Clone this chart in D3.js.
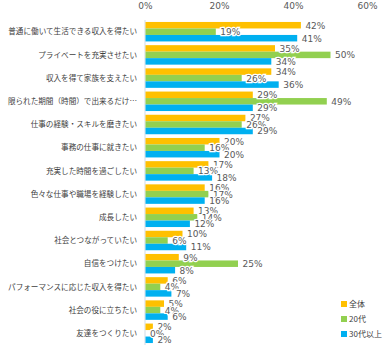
<!DOCTYPE html>
<html><head><meta charset="utf-8">
<script src="https://cdn.jsdelivr.net/npm/d3@7"></script>
<style>body{margin:0;background:#fff}svg{display:block;font-family:"Noto Sans CJK JP","Noto Sans",sans-serif}</style>
</head><body><div id="c"></div>
<script>
const categories = ["普通に働いて生活できる収入を得たい","プライベートを充実させたい","収入を得て家族を支えたい","限られた期間（時間）で出来るだけ…","仕事の経験・スキルを磨きたい","事務の仕事に就きたい","充実した時間を過ごしたい","色々な仕事や職場を経験したい","成長したい","社会とつながっていたい","自信をつけたい","パフォーマンスに応じた収入を得たい","社会の役に立ちたい","友達をつくりたい"];
const seriesNames = ["全体","20代","30代以上"];
const total = [42,35,34,29,27,20,17,16,13,10,9,6,5,2];
const age20 = [19,50,26,49,26,16,13,17,14,6,25,4,4,0];
const age30 = [41,34,36,29,29,20,18,16,12,11,8,7,6,2];
const tickValues = [0,20,40,60];
const colors = ["#FFC000","#92D050","#00B0F0"];
const seriesVals = [total, age20, age30];

const W=384,H=347;
const svg=d3.select("#c").append("svg").attr("width",W).attr("height",H);
const x=d3.scaleLinear().domain([0,60]).range([145,367]);
const y=d3.scaleBand().domain(categories).range([20.1,344.9]).paddingInner(0.16).paddingOuter(0.08);
const ys=d3.scaleBand().domain(seriesNames).range([0,y.bandwidth()]);

const ax=svg.append("g").attr("transform","translate(0,12)")
  .call(d3.axisTop(x).tickValues(tickValues).tickFormat(d=>d+"%").tickSize(0));
ax.select(".domain").remove();
ax.selectAll("text").attr("fill","#595959").style("font-size","9px").style("font-family","'DejaVu Sans',sans-serif");

svg.append("line").attr("x1",x(0)).attr("x2",x(0)).attr("y1",20).attr("y2",345).attr("stroke","#d0dbe5").attr("stroke-width",1);

svg.append("g").selectAll("text").data(categories).join("text")
  .attr("x",137).attr("y",d=>y(d)+y.bandwidth()/2).attr("dy","0.35em")
  .attr("text-anchor","end").attr("fill","#404040").style("font-size","7.6px").text(d=>d);

seriesNames.forEach((s,si)=>{
  svg.append("g").selectAll("rect").data(categories).join("rect")
    .attr("x",x(0)+0.5).attr("y",(d)=>y(d)+ys(s))
    .attr("width",(d,i)=>Math.max(0,x(seriesVals[si][i])-x(0)))
    .attr("height",ys.bandwidth()).attr("fill",colors[si]);
});
seriesNames.forEach((s,si)=>{
  svg.append("g").selectAll("text").data(categories).join("text")
    .attr("x",(d,i)=>x(seriesVals[si][i])+5).attr("y",d=>y(d)+ys(s)+ys.bandwidth()/2).attr("dy","0.38em")
    .attr("fill","#595959").attr("stroke","#fff").attr("stroke-width",2.5).attr("paint-order","stroke")
    .style("font-size","9px").style("font-family","'DejaVu Sans',sans-serif")
    .text((d,i)=>seriesVals[si][i]+"%");
});

const lg=svg.append("g");
seriesNames.forEach((s,i)=>{
  lg.append("rect").attr("x",341).attr("y",301+i*15).attr("width",6).attr("height",6).attr("fill",colors[i]);
  lg.append("text").attr("x",349).attr("y",304+i*15).attr("dy","0.35em").attr("fill","#404040").style("font-size","8px").text(s);
});
</script></body></html>
